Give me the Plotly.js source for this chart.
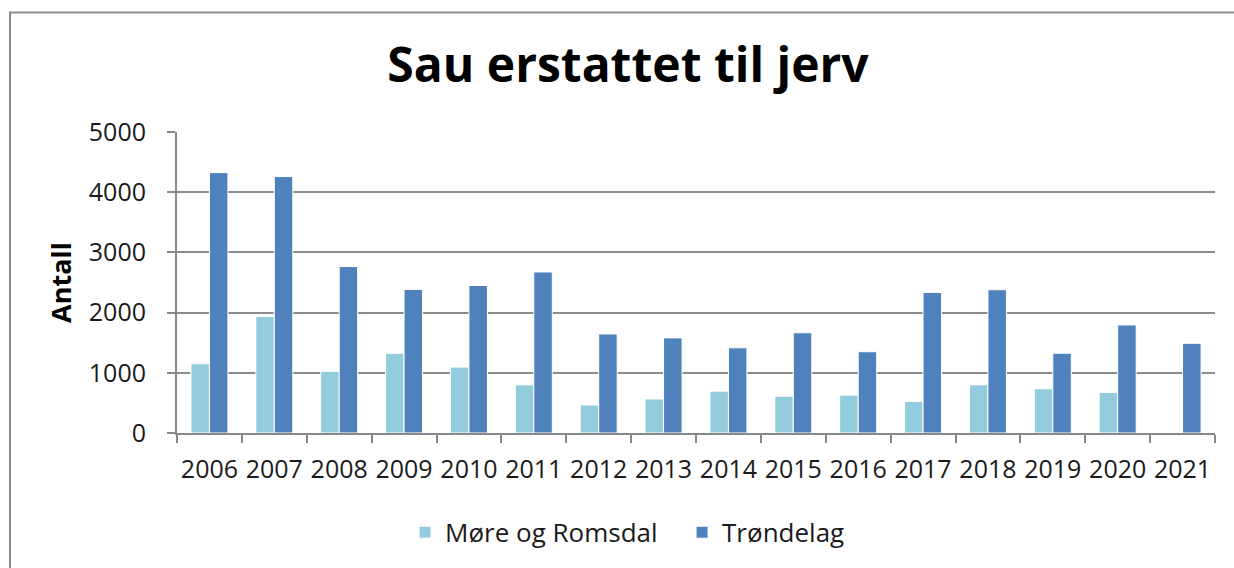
<!DOCTYPE html>
<html>
<head>
<meta charset="utf-8">
<script src="https://cdn.plot.ly/plotly-3.0.1.min.js"></script>
<style>
html,body{margin:0;padding:0;background:#fff;}
#chart{width:1234px;height:568px;}
</style>
</head>
<body>
<div id="chart"></div>
<script>
const years = ["2006","2007","2008","2009","2010","2011","2012","2013","2014","2015","2016","2017","2018","2019","2020","2021"];
const moreRomsdal = [1150,1935,1025,1325,1095,800,465,565,695,610,630,525,800,735,675,null];
const trondelag = [4325,4260,2765,2385,2450,2675,1645,1580,1415,1665,1350,2335,2380,1325,1795,1490];
const seriesNames = ["Møre og Romsdal","Trøndelag"];
const yTicks = [0,1000,2000,3000,4000,5000];

const font = "'Open Sans', 'Noto Sans', sans-serif";
const traces = [
  {type:"bar", name:seriesNames[0], x:years, y:moreRomsdal,
   marker:{color:"#93CDDD", line:{color:"#ffffff", width:1}}},
  {type:"bar", name:seriesNames[1], x:years, y:trondelag,
   marker:{color:"#4F81BD", line:{color:"#ffffff", width:1}}}
];
const layout = {
  width:1234, height:568,
  margin:{l:177, r:19, t:132, b:131},
  paper_bgcolor:"#ffffff", plot_bgcolor:"#ffffff",
  font:{family:font, color:"#1a1a1a", size:25},
  title:{text:"<b>Sau erstattet til jerv</b>", font:{family:font, size:48, color:"#000"},
         x:0.4345, xref:"paper", xanchor:"center", y:0.885, yref:"container", yanchor:"middle"},
  barmode:"group", bargap:0.43, bargroupgap:0,
  showlegend:true,
  legend:{orientation:"h", x:0.2197, xanchor:"left", y:-0.33, yanchor:"middle",
          font:{family:font, size:26, color:"#1a1a1a"}, itemwidth:30, traceorder:"normal",
          entrywidth:232},
  xaxis:{type:"category", showline:true, linecolor:"#888", linewidth:2,
         ticks:"outside", tickson:"boundaries", ticklen:8, tickcolor:"#888", tickwidth:2,
         ticklabelstandoff:13, tickangle:0,
         tickfont:{family:font, size:25, color:"#1a1a1a"}, showgrid:false, fixedrange:true},
  yaxis:{range:[0,5000], tickvals:yTicks, showline:true, linecolor:"#888", linewidth:2,
         ticks:"outside", ticklen:8, tickcolor:"#888", tickwidth:2,
         ticklabelstandoff:16,
         gridcolor:"#8c8c8c", gridwidth:2, zeroline:false,
         tickfont:{family:font, size:25, color:"#1a1a1a"},
         title:{text:"<b>Antall</b>", font:{family:font, size:27, color:"#000"}, standoff:9}},
  shapes:[{type:"rect", xref:"paper", yref:"paper",
           x0:(10-177)/1038, x1:1.2, y0:-0.6, y1:(437-11)/305,
           line:{color:"#8c8c8c", width:2}, fillcolor:"rgba(0,0,0,0)", layer:"below"}]
};
Plotly.newPlot("chart", traces, layout, {displayModeBar:false, staticPlot:true});
</script>
</body>
</html>
